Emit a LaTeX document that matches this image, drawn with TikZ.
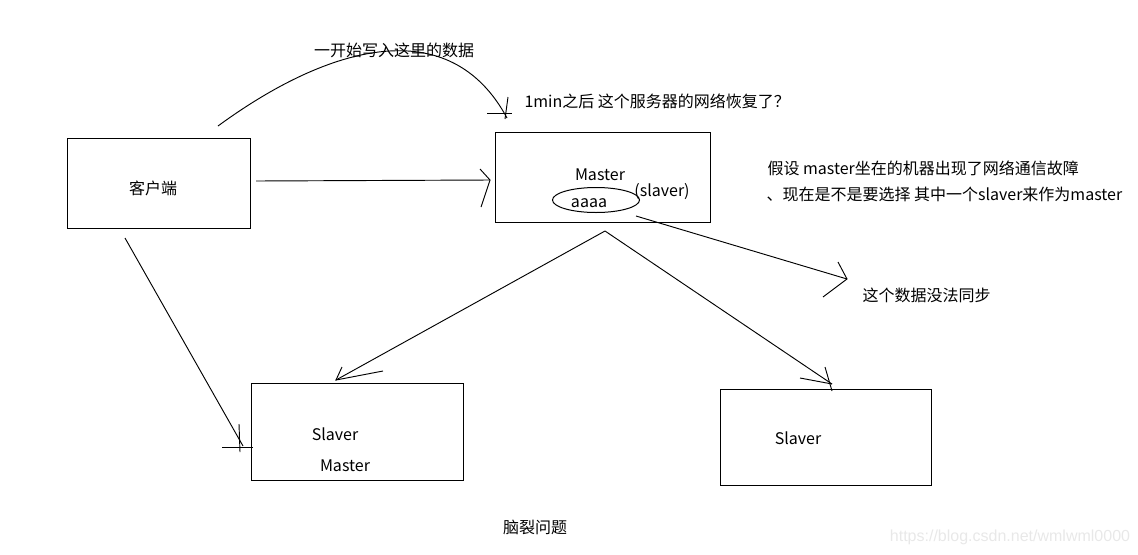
\documentclass[tikz,border=0pt]{standalone}
\usepackage{fontspec}
\setmainfont{Noto Sans CJK SC}
\newfontfamily\wmfont{Liberation Sans}
\usetikzlibrary{shapes.geometric}
\begin{document}
\begin{tikzpicture}[x=0.75pt,y=-0.75pt,line width=0.75pt,
  box/.style={draw,rectangle,inner sep=0pt,outer sep=0pt},
  lbl/.style={inner sep=0pt,font=\fontsize{12pt}{14pt}\selectfont},
  conn/.style={draw,line width=0.7pt}]
\useasboundingbox (0,0) rectangle (1138,554);
% boxes
\node[box,minimum width=137.25pt,minimum height=67.5pt] (client) at (158.5,183) {};
\node[box,minimum width=161.25pt,minimum height=67.5pt] (master) at (602.5,177) {};
\node[box,minimum width=159pt,minimum height=72.75pt] (slave1) at (357,431.5) {};
\node[box,minimum width=158.25pt,minimum height=72pt] (slave2) at (825.5,437) {};
\node[draw,ellipse,inner sep=0pt,minimum width=65.25pt,minimum height=18.75pt] (ell) at (596,200) {};
% texts
\node[lbl] (tclient) at (153,188) {客户端};
\node[lbl] (tmaster) at (600,175) {Master};
\node[lbl] (taaaa) at (589,203) {aaaa};
\node[lbl] (tslaver) at (662,192) {(slaver)};
\node[lbl] (ts1a) at (335,434) {Slaver};
\node[lbl] (ts1b) at (345,466) {Master};
\node[lbl] (ts2) at (798,438) {Slaver};
\node[lbl] (tfirst) at (394,50) {一开始写入这里的数据};
\node[lbl,anchor=west] (tmin) at (524,101) {1min之后 这个服务器的网络恢复了？};
\node[lbl,anchor=west] (tsup1) at (767,168) {假设 master坐在的机器出现了网络通信故障};
\node[lbl,anchor=west] (tsup2) at (766,194) {、现在是不是要选择 其中一个slaver来作为master};
\node[lbl,anchor=west] (tsync) at (862,295) {这个数据没法同步};
\node[lbl] (ttitle) at (535,527) {脑裂问题};
\node[inner sep=0pt,font=\wmfont\fontsize{12pt}{14pt}\selectfont,text=black!9] (wm) at (1010,537) {https://blog.csdn.net/wmlwml0000};
% coordinates
\coordinate (c1s) at (218,126);
\coordinate (c1e) at (507,118);
\coordinate (c2s) at (256,181);
\coordinate (c2e) at (490,180);
\coordinate (c3s) at (636,216);
\coordinate (c3e) at (847,279);
\coordinate (c4s) at (605,231);
\coordinate (c4e) at (336,380);
\coordinate (c5e) at (832,384);
\coordinate (c6s) at (125,238);
\coordinate (c6e) at (243,446);
% connectors
\draw[conn] (c1s) .. controls (330,44) and (450,12) .. (c1e);
\draw[conn] (487,113) -- (512,113);
\draw[conn] (508,97) -- (505,119);
\draw[conn] (c2s) -- (c2e);
\draw[conn] (480,169) -- (c2e) -- (481,207);
\draw[conn] (c3s) -- (c3e);
\draw[conn] (838,262) -- (c3e) -- (823,297);
\draw[conn] (c4s) -- (c4e);
\draw[conn] (342,367) -- (c4e) -- (383,371);
\draw[conn] (c4s) -- (c5e);
\draw[conn] (800,378) -- (c5e);
\draw[conn] (825,367) -- (832,391);
\draw[conn] (c6s) -- (c6e);
\draw[conn] (222,447) -- (253,447);
\draw[conn] (239,424) -- (240,452);
\end{tikzpicture}
\end{document}
